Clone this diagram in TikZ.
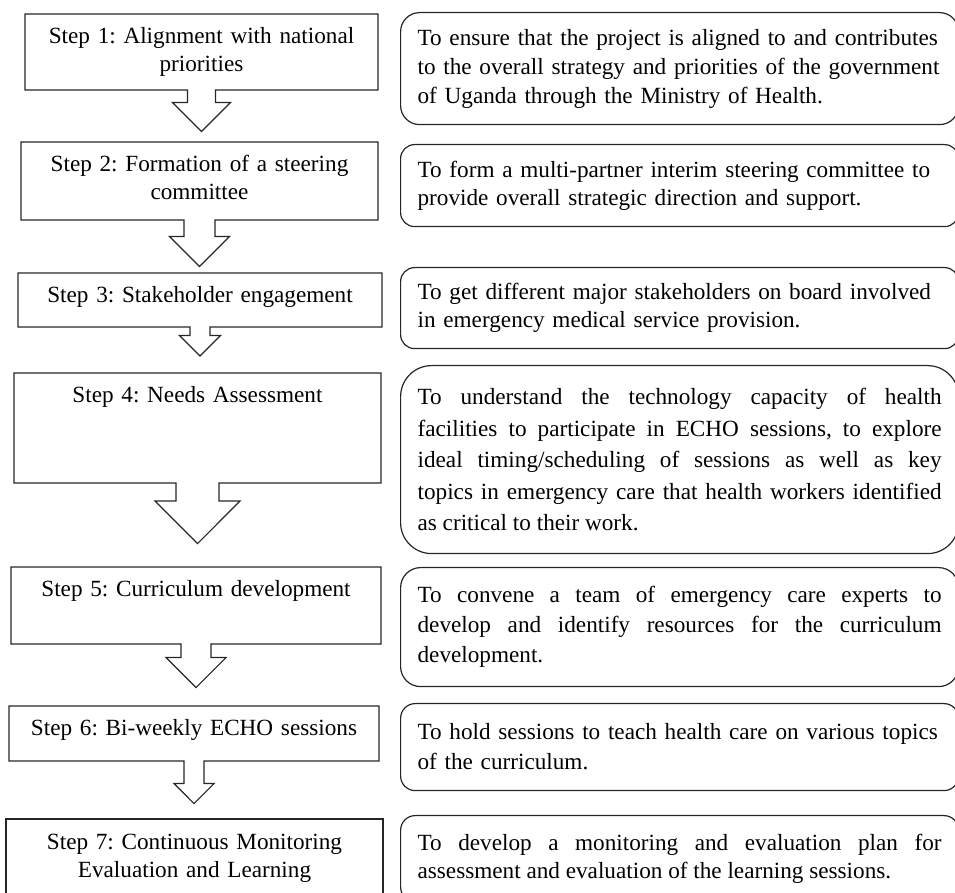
\documentclass[tikz,border=0pt]{standalone}
\usepackage{fontspec}
\setmainfont{Liberation Serif}
\usetikzlibrary{shapes.arrows}
\frenchspacing

\begin{document}
\begin{tikzpicture}[x=0.5pt, y=-0.5pt]

\tikzstyle{every node} = [font=\fontsize{11.6pt}{14pt}\selectfont]
\tikzstyle{stepbox} = [arrow box, draw=black!85, line width=0.6pt, text width=172pt, align=center, inner xsep=2pt, inner ysep=6pt, text height=9pt, arrow box north arrow=-1pt, arrow box east arrow=-1pt, arrow box west arrow=-1pt]
\tikzstyle{aimbox} = [rectangle, draw=black!85, line width=0.6pt, text width=262pt, inner xsep=8.5pt, anchor=north west]

\useasboundingbox (0,0) rectangle (955,893);
\clip (0,0) rectangle (955,893);

\node[stepbox, minimum width=176.5pt, text depth=17pt, arrow box shaft width=14pt, arrow box head extend=7.5pt, arrow box south arrow=20.5pt] (s1) at (201.5,52) {Step 1: Alignment with national\\priorities};
\node[stepbox, minimum width=178.5pt, text depth=18pt, arrow box shaft width=15.5pt, arrow box head extend=7.25pt, arrow box south arrow=23pt] (s2) at (199.5,181) {Step 2: Formation of a steering\\committee};
\node[stepbox, minimum width=182pt, text depth=6pt, arrow box shaft width=10pt, arrow box head extend=5.25pt, arrow box south arrow=14.25pt] (s3) at (200,300) {Step 3: Stakeholder engagement};
\node[stepbox, minimum width=183.5pt, text depth=34pt, arrow box shaft width=21.5pt, arrow box head extend=10.5pt, arrow box south arrow=30pt] (s4) at (197.5,428) {Step 4: Needs Assessment};
\node[stepbox, minimum width=185pt, text depth=17.5pt, arrow box shaft width=15pt, arrow box head extend=7.5pt, arrow box south arrow=21.5pt] (s5) at (196,605.5) {Step 5: Curriculum development};
\node[stepbox, minimum width=185pt, text depth=6.5pt, arrow box shaft width=10pt, arrow box head extend=5pt, arrow box south arrow=21pt] (s6) at (194,733.5) {Step 6: Bi-weekly ECHO sessions};
\node[stepbox, minimum width=188.5pt, text depth=24.5pt, arrow box south arrow=-1pt] (s7) at (194.5,864.5) {Step 7: Continuous Monitoring\\Evaluation and Learning};

\node[aimbox, minimum height=56pt, rounded corners=9.5pt, align=left, font=\fontsize{11.6pt}{14.5pt}\selectfont] (a1) at (400,12) {To ensure that the project is aligned to and contributes\\to the overall strategy and priorities of the government\\of Uganda through the Ministry of Health.};
\node[aimbox, minimum height=41pt, rounded corners=7pt, align=left] (a2) at (400,144) {To form a multi-partner interim steering committee to\\provide overall strategic direction and support.};
\node[aimbox, minimum height=40.5pt, rounded corners=7pt, align=left] (a3) at (400,267) {To get different major stakeholders on board involved\\in emergency medical service provision.};
\node[aimbox, minimum height=94pt, rounded corners=15.5pt, align=justify, font=\fontsize{11.6pt}{15.8pt}\selectfont] (a4) at (400,365) {To understand the technology capacity of health\linebreak facilities to participate in ECHO sessions, to explore\linebreak ideal timing/scheduling of sessions as well as key\linebreak topics in emergency care that health workers identified\linebreak as critical to their work.};
\node[aimbox, minimum height=59.5pt, rounded corners=10pt, align=justify, font=\fontsize{11.6pt}{15pt}\selectfont] (a5) at (400,567) {To convene a team of emergency care experts to\linebreak develop and identify resources for the curriculum\linebreak development.};
\node[aimbox, minimum height=43.5pt, rounded corners=7.3pt, align=left, font=\fontsize{11.6pt}{15pt}\selectfont] (a6) at (400,703) {To hold sessions to teach health care on various topics\\of the curriculum.};
\node[aimbox, minimum height=43pt, rounded corners=7.3pt, align=justify] (a7) at (400,815) {To develop a monitoring and evaluation plan for\linebreak assessment and evaluation of the learning sessions.};

\end{tikzpicture}
\end{document}
